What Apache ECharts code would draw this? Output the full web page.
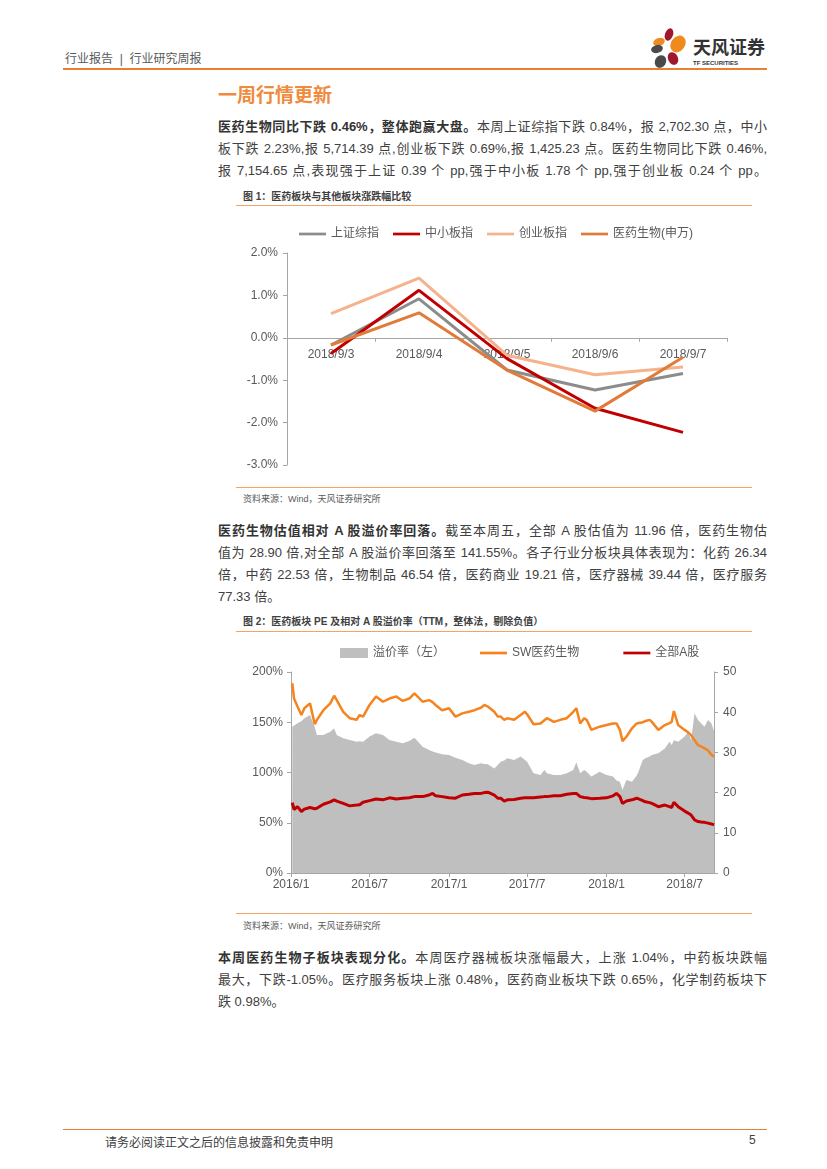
<!DOCTYPE html>
<html>
<head>
<meta charset="utf-8">
<script src="https://cdn.jsdelivr.net/npm/echarts@6.0.0/dist/echarts.min.js"></script>
<style>
  html, body { margin: 0; padding: 0; background: #fff; }
  body { width: 827px; height: 1169px; position: relative; overflow: hidden;
         font-family: "Liberation Sans", "Noto Sans CJK SC", sans-serif; color: #404040; }
  .abs { position: absolute; }
  .ln { position: absolute; left: 218px; width: 549px; font-size: 13px; line-height: 22px;
        text-align: justify; text-align-last: justify; white-space: nowrap; color: #404040; }
  .ln.last { text-align-last: left; }
  .ln b { color: #333; }
  .cap { position: absolute; left: 243px; font-size: 10px; font-weight: bold; color: #404040; }
  .src { position: absolute; left: 243px; font-size: 9px; color: #595959; }
  .rule { position: absolute; left: 236px; width: 516px; height: 1px; background: #F0A468; }
  .petal { position: absolute; border-radius: 50%; }
</style>
</head>
<body>

<!-- 页眉 -->
<div class="abs" style="left:65px;top:49px;font-size:12px;color:#595959;">行业报告&nbsp;&nbsp;|&nbsp;&nbsp;行业研究周报</div>
<div class="abs" style="left:63px;top:68px;width:704px;height:2px;background:#E9802F;"></div>
<div class="petal" style="left:665px;top:28px;width:8px;height:13px;background:#A0172E;transform:rotate(20deg);"></div>
<div class="petal" style="left:671px;top:35px;width:14px;height:18px;background:#EE8A1E;transform:rotate(35deg);"></div>
<div class="petal" style="left:653px;top:38px;width:12px;height:8px;background:#EE8A1E;transform:rotate(-20deg);"></div>
<div class="petal" style="left:651px;top:45px;width:12px;height:8px;background:#4A4A4A;transform:rotate(-15deg);"></div>
<div class="petal" style="left:668px;top:52px;width:10px;height:13px;background:#A0172E;transform:rotate(-25deg);"></div>
<div class="petal" style="left:655px;top:55px;width:11px;height:13px;background:#4A4A4A;transform:rotate(30deg);"></div>
<div class="abs" style="left:693px;top:36px;font-size:18px;line-height:20px;font-weight:bold;color:#333;font-family:'Noto Sans CJK SC';">天风证券</div>
<div class="abs" style="left:693px;top:60px;font-size:6px;line-height:7px;font-weight:bold;color:#333;">TF SECURITIES</div>

<!-- 标题 -->
<div class="abs" style="left:218px;top:80px;font-size:19px;font-weight:bold;color:#F08A3C;font-family:'Noto Sans CJK SC';">一周行情更新</div>

<!-- 第一段 -->
<div class="ln" style="top:116px;"><b>医药生物同比下跌 0.46%，整体跑赢大盘。</b>本周上证综指下跌 0.84%，报 2,702.30 点，中小</div>
<div class="ln" style="top:138px;">板下跌 2.23%,报 5,714.39 点,创业板下跌 0.69%,报 1,425.23 点。医药生物同比下跌 0.46%,</div>
<div class="ln" style="top:160px;">报 7,154.65 点,表现强于上证 0.39 个 pp,强于中小板 1.78 个 pp,强于创业板 0.24 个 pp。</div>

<!-- 图1 -->
<div class="cap" style="top:188px;">图 1：医药板块与其他板块涨跌幅比较</div>
<div class="rule" style="top:205px;"></div>
<div id="chart1" class="abs" style="left:236px;top:210px;width:520px;height:272px;"></div>
<div class="rule" style="top:487px;"></div>
<div class="src" style="top:492px;">资料来源：Wind，天风证券研究所</div>

<!-- 第二段 -->
<div class="ln" style="top:520px;"><b>医药生物估值相对 A 股溢价率回落。</b>截至本周五，全部 A 股估值为 11.96 倍，医药生物估</div>
<div class="ln" style="top:542px;">值为 28.90 倍,对全部 A 股溢价率回落至 141.55%。各子行业分板块具体表现为：化药 26.34</div>
<div class="ln" style="top:564px;">倍，中药 22.53 倍，生物制品 46.54 倍，医药商业 19.21 倍，医疗器械 39.44 倍，医疗服务</div>
<div class="ln last" style="top:586px;">77.33 倍。</div>

<!-- 图2 -->
<div class="cap" style="top:613px;">图 2：医药板块 PE 及相对 A 股溢价率（TTM，整体法，剔除负值）</div>
<div class="rule" style="top:631px;"></div>
<div id="chart2" class="abs" style="left:236px;top:636px;width:520px;height:272px;"></div>
<div class="rule" style="top:913px;"></div>
<div class="src" style="top:919px;">资料来源：Wind，天风证券研究所</div>

<!-- 第三段 -->
<div class="ln" style="top:947px;"><b>本周医药生物子板块表现分化。</b>本周医疗器械板块涨幅最大，上涨 1.04%，中药板块跌幅</div>
<div class="ln" style="top:969px;">最大，下跌-1.05%。医疗服务板块上涨 0.48%，医药商业板块下跌 0.65%，化学制药板块下</div>
<div class="ln last" style="top:991px;">跌 0.98%。</div>

<!-- 页脚 -->
<div class="abs" style="left:63px;top:1129px;width:704px;height:1px;background:#E9802F;"></div>
<div class="abs" style="left:105px;top:1133px;font-size:12px;color:#404040;">请务必阅读正文之后的信息披露和免责申明</div>
<div class="abs" style="left:749px;top:1133px;font-size:12px;color:#404040;">5</div>

<script>
// 图1：一周涨跌幅（%）
const fig1Dates = ['2018/9/3', '2018/9/4', '2018/9/5', '2018/9/6', '2018/9/7'];
const fig1SZ  = [-0.17, 0.92, -0.76, -1.23, -0.84];   // 上证综指
const fig1ZXB = [-0.37, 1.12, -0.49, -1.66, -2.23];   // 中小板指
const fig1CYB = [0.57, 1.41, -0.41, -0.87, -0.69];    // 创业板指
const fig1YY  = [-0.17, 0.59, -0.76, -1.73, -0.46];   // 医药生物(申万)

// 图2：PE 及溢价率
const fig2Dates = [
  '2016/1/4','2016/1/8','2016/1/16','2016/1/25','2016/2/1','2016/2/14','2016/2/25','2016/3/1','2016/3/16','2016/4/1',
  '2016/4/10','2016/4/16','2016/5/1','2016/5/16','2016/6/1','2016/6/8','2016/6/16','2016/7/1','2016/7/16','2016/8/1',
  '2016/8/16','2016/9/1','2016/9/16','2016/10/1','2016/10/13','2016/10/16','2016/11/1','2016/11/16','2016/11/24','2016/12/1',
  '2016/12/16',
  '2017/1/1','2017/1/16','2017/2/1','2017/2/16','2017/3/1','2017/3/16','2017/3/24','2017/4/1','2017/4/16','2017/4/24',
  '2017/5/1','2017/5/9','2017/5/16','2017/6/1','2017/6/16','2017/6/26','2017/7/1','2017/7/16','2017/8/1','2017/8/10',
  '2017/8/16','2017/9/1','2017/9/16','2017/10/1','2017/10/16','2017/10/23','2017/11/1','2017/11/10','2017/11/16','2017/11/27',
  '2017/12/1','2017/12/16',
  '2018/1/1','2018/1/16','2018/1/24','2018/2/1','2018/2/7','2018/2/16','2018/3/1','2018/3/12','2018/3/16','2018/3/26',
  '2018/4/1','2018/4/11','2018/4/16','2018/5/1','2018/5/16','2018/5/27','2018/6/1','2018/6/6','2018/6/16','2018/7/1',
  '2018/7/9','2018/7/16','2018/7/24','2018/8/1','2018/8/8','2018/8/16','2018/8/24','2018/9/1','2018/9/7'
];
// 溢价率（%，左轴）
const fig2Premium = [
  145.6, 147, 148.9, 151, 153.9, 157.2, 145, 137.3, 137.3, 140.6,
  143.9, 137.3, 134, 132.3, 130.7, 131, 130.7, 135.7, 139, 137.3,
  132.3, 130.7, 129, 131.3, 134.7, 133.3, 125.7, 122.4, 121, 120,
  118.1,
  117.4, 114.8, 112.4, 109.1, 107.5, 109.1, 108.5, 108.1, 104.1, 107.5,
  110.8, 112, 114.1, 112.4, 115.8, 112.4, 110.8, 99.2, 97.5, 102.5,
  99.2, 97.5, 97.5, 99.2, 102.5, 110.1, 99.2, 102.5, 100.8, 95.9,
  97.5, 100.8,
  97.5, 95.9, 92, 90.9, 82.6, 92.5, 90.9, 97, 100.8, 112.4,
  114.1, 116, 117.4, 119.1, 124, 130.7, 127.4, 132, 130.7, 135.7,
  140.6, 132.3, 158.9, 152.2, 148.9, 145.6, 152.2, 148.9, 141.6
];
// SW医药生物 PE（右轴）
const fig2SW = [
  47.2, 43.4, 41.4, 39.3, 41.0, 42.2, 37.0, 38.1, 40.5, 42.2,
  44.1, 43.0, 40.1, 38.5, 38.1, 39.3, 38.9, 41.8, 43.9, 42.6,
  43.4, 43.9, 42.8, 43.4, 44.7, 44.3, 42.6, 43.0, 42.5, 41.8,
  40.5,
  41.0, 38.9, 39.7, 40.1, 40.5, 41.1, 41.8, 41.4, 40.1, 38.9,
  38.9, 38.1, 38.5, 38.1, 39.3, 40.1, 39.5, 37.0, 37.2, 38.0,
  38.5, 37.6, 38.1, 38.5, 40.1, 41.0, 37.2, 38.5, 38.1, 35.6,
  36.0, 36.4,
  36.8, 37.2, 37.2, 35.6, 32.8, 33.9, 36.0, 37.2, 36.8, 37.5,
  37.8, 38.1, 37.6, 35.6, 36.8, 37.3, 37.6, 40.3, 36.8, 35.6,
  35.0, 34.3, 33.0, 31.8, 31.5, 31.0, 30.5, 29.4, 28.9
];
// 全部A股 PE（右轴）
const fig2AllA = [
  17.5, 15.8, 16.5, 15.3, 15.9, 16.3, 16.0, 16.1, 17.1, 17.7,
  18.2, 17.9, 17.3, 16.7, 16.9, 17.0, 17.6, 18.0, 18.4, 18.2,
  18.7, 18.4, 18.6, 18.7, 19.0, 19.0, 19.0, 19.4, 19.8, 19.2,
  19.0,
  18.7, 18.6, 19.4, 19.6, 19.8, 19.8, 20.0, 20.1, 19.4, 18.6,
  18.6, 17.9, 18.2, 18.3, 18.6, 18.7, 18.7, 18.7, 18.9, 19.0,
  19.0, 19.2, 19.2, 19.6, 19.8, 19.8, 19.0, 18.8, 18.7, 18.5,
  18.4, 18.6,
  18.7, 19.2, 19.8, 19.0, 17.3, 17.9, 18.2, 18.6, 18.3, 18.0,
  17.7, 17.5, 17.3, 16.5, 16.9, 16.5, 16.3, 17.6, 16.5, 15.4,
  14.9, 14.4, 13.2, 12.8, 12.7, 12.6, 12.4, 12.2, 11.96
];
const fig2TickLabels = ['2016/1', '2016/7', '2017/1', '2017/7', '2018/1', '2018/7'];

// 把 'yyyy/m/d' 转成本地时间戳
function toTime(s) {
  const p = s.split('/').map(Number);
  return new Date(p[0], p[1] - 1, p[2] || 1).getTime();
}

const axisGray = '#A6A6A6';
const labelGray = '#595959';
const lineIcon = 'path://M0,0L30,0L30,3L0,3Z';

// ---------- 图1 ----------
const chart1 = echarts.init(document.getElementById('chart1'), null, { renderer: 'canvas' });
const c1Grid = { left: 51, right: 29, top: 43, bottom: 17 };
const c1Min = -3, c1Max = 2;
// 横轴放到 0 线上（标签跟着走）
const c1PlotH = 272 - c1Grid.top - c1Grid.bottom;
const c1Offset = -(0 - c1Min) / (c1Max - c1Min) * c1PlotH;
function line1(name, data, color) {
  return {
    name, type: 'line', data, symbol: 'none',
    lineStyle: { width: 3, color }, itemStyle: { color }
  };
}
chart1.setOption({
  animation: false,
  textStyle: { fontFamily: 'Liberation Sans, Noto Sans CJK SC' },
  legend: {
    top: 13, left: 'center', itemWidth: 27, itemHeight: 3.5, itemGap: 14, icon: lineIcon,
    textStyle: { fontSize: 12, color: labelGray },
    data: ['上证综指', '中小板指', '创业板指', '医药生物(申万)']
  },
  grid: c1Grid,
  xAxis: {
    type: 'category', data: fig1Dates, boundaryGap: true,
    offset: c1Offset,
    axisLine: { onZero: false, lineStyle: { color: axisGray } },
    axisTick: { show: true, length: 4, lineStyle: { color: axisGray } },
    axisLabel: { fontSize: 12, color: labelGray, margin: 11 }
  },
  yAxis: {
    type: 'value', min: c1Min, max: c1Max, interval: 1,
    axisLine: { show: true, lineStyle: { color: axisGray } },
    axisTick: { show: true, length: 4, lineStyle: { color: axisGray } },
    splitLine: { show: false },
    axisLabel: { fontSize: 12, color: labelGray, margin: 9, formatter: v => v.toFixed(1) + '%' }
  },
  series: [
    line1('上证综指', fig1SZ, '#8C8C8C'),
    line1('中小板指', fig1ZXB, '#C00000'),
    line1('创业板指', fig1CYB, '#F5B28C'),
    line1('医药生物(申万)', fig1YY, '#E07B39')
  ]
});

// ---------- 图2 ----------
const chart2 = echarts.init(document.getElementById('chart2'), null, { renderer: 'canvas' });
const times = fig2Dates.map(toTime);
const tickTimes = fig2TickLabels.map(toTime);
const pair = arr => arr.map((v, i) => [times[i], v]);
chart2.setOption({
  animation: false,
  textStyle: { fontFamily: 'Liberation Sans, Noto Sans CJK SC' },
  legend: [
    {
      top: 6, left: 99, itemWidth: 28, itemHeight: 10, icon: 'rect',
      textStyle: { fontSize: 12, color: labelGray },
      data: ['溢价率（左）']
    },
    {
      top: 6, left: 239, itemWidth: 27, itemHeight: 3.5, itemGap: 44, icon: lineIcon,
      textStyle: { fontSize: 12, color: labelGray },
      data: ['SW医药生物', '全部A股']
    }
  ],
  grid: { left: 55, right: 42, top: 36, bottom: 35 },
  xAxis: {
    type: 'value', min: toTime('2016/1/1'), max: toTime('2018/9/7'),
    axisLine: { lineStyle: { color: axisGray } },
    axisTick: { show: true, length: 4, customValues: tickTimes, lineStyle: { color: axisGray } },
    splitLine: { show: false },
    axisLabel: {
      fontSize: 12, color: labelGray, margin: 6, customValues: tickTimes,
      formatter: v => { const d = new Date(v); return d.getFullYear() + '/' + (d.getMonth() + 1); }
    }
  },
  yAxis: [
    {
      type: 'value', min: 0, max: 200, interval: 50,
      axisLine: { show: true, lineStyle: { color: axisGray } },
      axisTick: { show: true, length: 4, lineStyle: { color: axisGray } },
      splitLine: { show: false },
      axisLabel: { fontSize: 12, color: labelGray, margin: 8, formatter: '{value}%' }
    },
    {
      type: 'value', min: 0, max: 50, interval: 10,
      axisLine: { show: true, lineStyle: { color: axisGray } },
      axisTick: { show: true, length: 4, lineStyle: { color: axisGray } },
      splitLine: { show: false },
      axisLabel: { fontSize: 12, color: labelGray, margin: 9 }
    }
  ],
  series: [
    {
      name: '溢价率（左）', type: 'line', yAxisIndex: 0, data: pair(fig2Premium),
      symbol: 'none', lineStyle: { width: 0, color: '#BFBFBF' },
      itemStyle: { color: '#BFBFBF' }, areaStyle: { color: '#BFBFBF', opacity: 1 }
    },
    {
      name: 'SW医药生物', type: 'line', yAxisIndex: 1, data: pair(fig2SW),
      symbol: 'none', lineStyle: { width: 2.5, color: '#F5841F' }, itemStyle: { color: '#F5841F' }
    },
    {
      name: '全部A股', type: 'line', yAxisIndex: 1, data: pair(fig2AllA),
      symbol: 'none', lineStyle: { width: 3, color: '#C00000' }, itemStyle: { color: '#C00000' }
    }
  ]
});
</script>
</body>
</html>
